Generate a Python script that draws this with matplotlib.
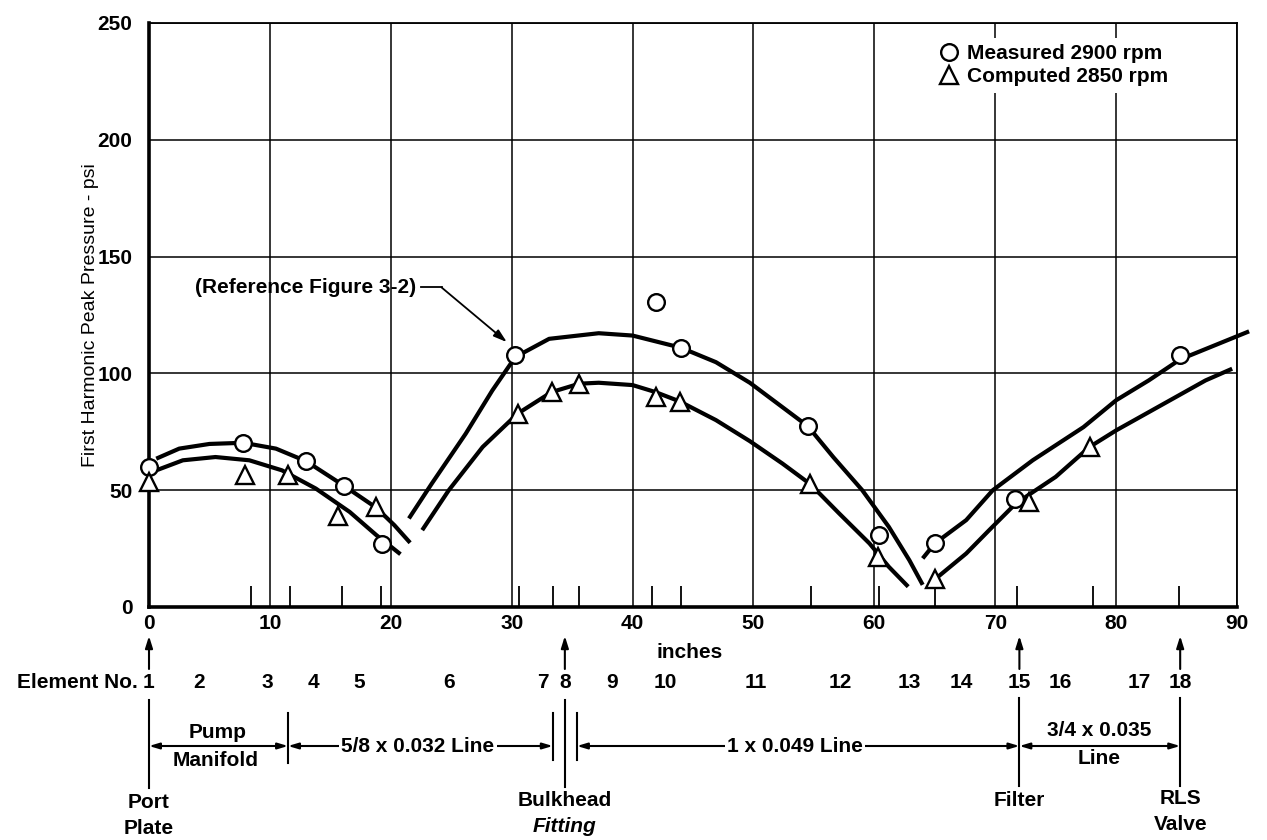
import matplotlib
matplotlib.use('Agg')
import matplotlib.pyplot as plt
from matplotlib.transforms import blended_transform_factory
from matplotlib.lines import Line2D

plt.rcParams['font.family'] = ['Liberation Sans', 'DejaVu Sans']

# ---------------- data ----------------
# measured points (circles), 2900 rpm
meas_x = [0, 7.8, 13.0, 16.1, 19.3, 30.3, 41.9, 44.0, 54.5, 60.4, 65.0, 71.6, 85.3]
meas_y = [60, 70, 62.4, 52, 27, 108, 130.5, 111, 77.4, 30.8, 27.2, 46.4, 108]

# computed points (triangles), 2850 rpm
comp_x = [0, 7.9, 11.5, 15.6, 18.8, 30.5, 33.3, 35.6, 41.9, 43.9, 54.7, 60.3, 65.0, 72.8, 77.8]
comp_y = [53.5, 56.4, 56.4, 39, 42.7, 82.8, 92, 95.6, 89.9, 87.7, 52.6, 21.5, 11.8, 45, 68.5]

# faired curves (hand drawn in original), read as points
upper1_x = [0.6, 2.5, 5.0, 7.8, 10.5, 13.0, 16.1, 18.8, 20.3, 21.6]
upper1_y = [63.5, 67.8, 69.8, 70.3, 67.8, 62.4, 52.0, 42.5, 35.0, 27.5]
lower1_x = [0.6, 2.8, 5.5, 8.3, 11.0, 13.8, 16.6, 18.8, 20.8]
lower1_y = [58.5, 62.8, 64.2, 62.8, 58.5, 50.7, 40.7, 30.8, 22.6]

upper2_x = [21.5, 23.4, 26.2, 28.4, 30.3, 33.1, 37.2, 40.0, 44.0, 46.9, 49.7, 54.5, 56.6, 59.0, 61.2, 62.9, 64.0]
upper2_y = [37.9, 52.9, 74.2, 92.7, 107, 114.8, 117.2, 116.2, 111, 104.8, 96, 77.4, 64.2, 50, 34.3, 20, 9.5]
lower2_x = [22.6, 24.8, 27.6, 30.5, 33.3, 35.6, 37.2, 40.0, 41.9, 43.9, 46.9, 49.7, 52.4, 54.7, 57.1, 59.6, 61.2, 62.8]
lower2_y = [32.9, 50, 68.5, 82.8, 92, 95.6, 96, 95, 92, 88, 80, 71, 61.4, 52.6, 40, 27.2, 17.2, 8.7]

upper3_x = [64.0, 65.0, 67.6, 69.8, 73.1, 77.3, 80.0, 82.7, 85.3, 91.0]
upper3_y = [20.8, 27.2, 37.2, 50, 62.8, 77, 88.5, 97, 106, 118]
lower3_x = [64.5, 65.0, 67.6, 69.5, 71.7, 75.0, 77.8, 80.0, 87.4, 89.6]
lower3_y = [9, 11.8, 22.9, 32.9, 44.3, 55.7, 68.5, 75.6, 97, 102]

# element station tick marks along the bottom axis (inches)
station_x = [8.4, 11.7, 16.0, 19.2, 30.6, 33.4, 35.6, 41.6, 44.0, 54.8, 60.4, 65.0, 71.8, 78.1, 85.2]

# element numbers and their positions (inches)
element_labels = [str(i) for i in range(1, 19)]
element_x = [0, 4.1, 9.8, 13.6, 17.4, 24.8, 32.6, 34.4, 38.3, 42.7, 50.2, 57.2, 62.9, 67.2, 72.0, 75.4, 81.9, 85.3]

x_ticks = list(range(0, 91, 10))
y_ticks = list(range(0, 251, 50))
legend_labels = ['Measured 2900 rpm', 'Computed 2850 rpm']

FS = 15

# ---------------- figure ----------------
W, H = 1267, 840
fig = plt.figure(figsize=(W / 100, H / 100), dpi=100)
fig.patch.set_facecolor('white')
ax = fig.add_axes([149 / W, 1 - 607 / H, (1237 - 149) / W, (607 - 23) / H])
ax.set_xlim(0, 90)
ax.set_ylim(0, 250)
ax.set_xticks(x_ticks)
ax.set_yticks(y_ticks)
ax.grid(True, color='black', lw=1.1, zorder=0)
ax.set_axisbelow(True)
ax.tick_params(axis='both', length=0, labelsize=FS)
ax.tick_params(axis='x', pad=5)
ax.tick_params(axis='y', pad=12)
for lab in ax.get_xticklabels() + ax.get_yticklabels():
    lab.set_fontweight('bold')
for side in ['left', 'bottom']:
    ax.spines[side].set_linewidth(2.6)
for side in ['top', 'right']:
    ax.spines[side].set_linewidth(1.3)

ax.set_ylabel('First Harmonic Peak Pressure - psi', fontsize=14, labelpad=-1)

# curves
for cx, cy in [(upper1_x, upper1_y), (lower1_x, lower1_y), (upper2_x, upper2_y),
               (lower2_x, lower2_y), (upper3_x, upper3_y), (lower3_x, lower3_y)]:
    ax.plot(cx, cy, color='black', lw=3.0, solid_capstyle='butt',
            solid_joinstyle='round', zorder=3, clip_on=False)

# station ticks
ax.vlines(station_x, 0, 9, color='black', lw=1.3, zorder=2)

# markers
ax.plot(meas_x, meas_y, 'o', ms=12, mfc='white', mec='black', mew=1.7, zorder=4, clip_on=False)
ax.plot(comp_x, comp_y, '^', ms=12.5, mfc='white', mec='black', mew=1.7, zorder=4, clip_on=False)

# legend
handles = [Line2D([], [], marker='o', ls='none', ms=12, mfc='white', mec='black', mew=1.7),
           Line2D([], [], marker='^', ls='none', ms=12.5, mfc='white', mec='black', mew=1.7)]
leg = ax.legend(handles, legend_labels, loc='upper left',
                bbox_to_anchor=((933 - 149) / 1088, 1 - (38 - 23) / 584),
                frameon=True, facecolor='white', edgecolor='none', framealpha=1,
                fancybox=False, prop={'size': FS, 'weight': 'bold'},
                handlelength=0.9, handletextpad=0.45, labelspacing=0.2,
                borderpad=0.3, borderaxespad=0)

# reference annotation
ax.text(3.8, 136.8, '(Reference Figure 3-2)', fontsize=FS, fontweight='bold',
        ha='left', va='center')
ax.plot([22.5, 24.2], [136.8, 136.8], color='black', lw=1.3)
ax.annotate('', xy=(29.6, 113.4), xytext=(24.2, 136.8),
            arrowprops=dict(arrowstyle='-|>,head_length=0.8,head_width=0.25',
                            color='black', lw=1.3, shrinkA=0, shrinkB=0))

# ---------------- lower schematic ----------------
tr = blended_transform_factory(ax.transData, fig.transFigure)


def fy(py):
    return 1 - py / H


bold = dict(fontsize=FS, fontweight='bold', transform=tr, ha='center', va='center')

fig.text(44.7, fy(653), 'inches', **bold)
fig.text(-0.95, fy(683), 'Element No.', fontsize=FS, fontweight='bold', transform=tr,
         ha='right', va='center')
for lab, x in zip(element_labels, element_x):
    fig.text(x, fy(683), lab, **bold)

# up arrows at principal stations
for x in [0, 34.4, 72.0, 85.3]:
    ax.annotate('', xy=(x, fy(636)), xytext=(x, fy(669)), xycoords=tr, textcoords=tr,
                arrowprops=dict(arrowstyle='-|>,head_length=0.7,head_width=0.22',
                                color='black', lw=1.5, shrinkA=0, shrinkB=0),
                annotation_clip=False)

# vertical markers
vlines = [(0, 700, 788), (72.0, 698, 786), (85.3, 698, 786), (34.4, 700, 787),
          (33.4, 713, 760), (35.4, 713, 760), (11.5, 713, 763)]
for x, y0, y1 in vlines:
    fig.add_artist(Line2D([x, x], [fy(y0), fy(y1)], transform=tr, color='black', lw=1.5))

# dimension lines
ydim = fy(746)
arrow_kw = dict(arrowstyle='<|-|>,head_length=0.6,head_width=0.18', color='black',
                lw=1.5, shrinkA=0, shrinkB=0)
for x0, x1 in [(0, 11.5), (11.5, 33.4), (35.4, 72.0), (72.0, 85.3)]:
    ax.annotate('', xy=(x1, ydim), xytext=(x0, ydim), xycoords=tr, textcoords=tr,
                arrowprops=arrow_kw, annotation_clip=False)

wb = dict(facecolor='white', edgecolor='none', pad=1.5)
fig.text(5.7, fy(733), 'Pump', **bold)
fig.text(5.5, fy(761), 'Manifold', **bold)
fig.text(22.25, ydim, '5/8 x 0.032 Line', bbox=wb, **bold)
fig.text(53.4, ydim, '1 x 0.049 Line', bbox=wb, **bold)
fig.text(78.6, fy(730), '3/4 x 0.035', **bold)
fig.text(78.6, fy(759), 'Line', **bold)

fig.text(0, fy(803), 'Port', **bold)
fig.text(0, fy(828), 'Plate', **bold)
fig.text(34.4, fy(801), 'Bulkhead', **bold)
fig.text(34.4, fy(826), 'Fitting', fontstyle='italic', **bold)
fig.text(72.0, fy(800), 'Filter', **bold)
fig.text(85.3, fy(799), 'RLS', **bold)
fig.text(85.3, fy(824), 'Valve', **bold)

fig.savefig('out.png', dpi=100, facecolor='white')
